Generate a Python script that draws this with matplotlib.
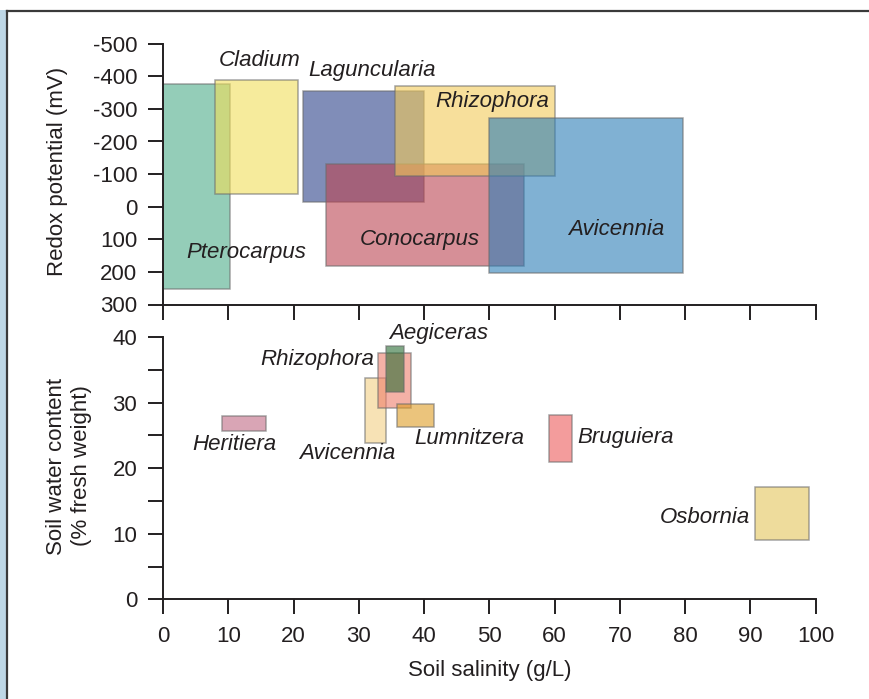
import matplotlib
matplotlib.use('Agg')
import matplotlib.pyplot as plt
from matplotlib.colors import to_rgb
from matplotlib.patches import Rectangle
from matplotlib.lines import Line2D
import numpy as np

# верхняя панель: окислительно-восстановительный потенциал
top_species = ['Pterocarpus', 'Cladium', 'Laguncularia', 'Conocarpus', 'Rhizophora', 'Avicennia']
top_sal_lo = [0, 8, 21.5, 25, 35.5, 50]
top_sal_hi = [10.2, 20.7, 40, 55.3, 60, 79.6]
top_redox_lo = [-375, -390, -355, -130, -370, -272]
top_redox_hi = [252, -38, -15, 182, -95, 203]
top_label_x = [12.8, 14.8, 32.0, 39.3, 50.5, 69.5]
top_label_y = [140, -447, -419, 100, -324, 69]
top_colors = ['#94CEB8', '#F6EC9C', '#808DB8', '#D68F97', '#F7DF9B', '#80B1D4']

# нижняя панель: влажность почвы
bot_species = ['Heritiera', 'Avicennia', 'Rhizophora', 'Aegiceras', 'Lumnitzera', 'Bruguiera', 'Osbornia']
bot_sal_lo = [9.1, 30.9, 33.0, 34.1, 35.9, 59.1, 90.7]
bot_sal_hi = [15.8, 34.1, 38.0, 37.0, 41.5, 62.7, 98.9]
bot_water_lo = [25.6, 23.9, 29.2, 31.6, 26.3, 21.0, 9.0]
bot_water_hi = [28.0, 33.7, 37.6, 38.7, 29.8, 28.1, 17.1]
bot_label_x = [11.0, 28.2, 23.7, 42.3, 47.0, 70.8, 83.0]
bot_label_y = [23.6, 22.2, 36.5, 40.6, 24.5, 24.6, 12.5]
bot_colors = ['#D9A5B6', '#F8E2B6', '#F5B1A6', '#7FA785', '#EBC47C', '#F39C9C', '#EFDD9C']

redox_ticks = [-500, -400, -300, -200, -100, 0, 100, 200, 300]
water_ticks = [0, 10, 20, 30, 40]
water_minor = [5, 15, 25, 35]
sal_ticks = [0, 10, 20, 30, 40, 50, 60, 70, 80, 90, 100]

ALPHA = 0.6
INK = '#231f20'
FS = 16
FS_LAB = 16

plt.rcParams['font.family'] = ['Liberation Sans', 'DejaVu Sans']
plt.rcParams['axes.unicode_minus'] = False


def base_rgba(hexcol, a=ALPHA):
    # цвет, который на белом фоне при прозрачности a дает наблюдаемый оттенок
    c = np.array(to_rgb(hexcol))
    b = (c - (1 - a)) / a
    b = np.clip(b, 0, 1)
    return (b[0], b[1], b[2], a)


EDGE = (0.42, 0.42, 0.42, 0.6)

fig = plt.figure(figsize=(8.69, 6.99), dpi=100)
W, H = 869.0, 699.0

# рамка
fig.patches.append(Rectangle((0, 0), 6.5 / W, 1 - 10 / H, transform=fig.transFigure,
                             facecolor='#BED7E6', edgecolor='none', zorder=0))
fig.lines.append(Line2D([7.3 / W, 7.3 / W], [0, 1 - 10.5 / H], transform=fig.transFigure,
                        color='#3a3a3a', lw=1.6))
fig.lines.append(Line2D([6.5 / W, 1], [1 - 10.8 / H, 1 - 10.8 / H], transform=fig.transFigure,
                        color='#3a3a3a', lw=1.6))

x0, x1 = 163 / W, 815.7 / W
ax = fig.add_axes([x0, 1 - 304.5 / H, x1 - x0, (304.5 - 43.7) / H])
ax2 = fig.add_axes([x0, 1 - 599.3 / H, x1 - x0, (599.3 - 337) / H])

for a in (ax, ax2):
    for s in ('top', 'right'):
        a.spines[s].set_visible(False)
    for s in ('left', 'bottom'):
        a.spines[s].set_color(INK)
        a.spines[s].set_linewidth(1.4)
    a.tick_params(which='both', direction='out', length=10.5, width=1.4, color=INK,
                  labelsize=FS, labelcolor=INK)
    a.tick_params(axis='y', pad=8)
    a.set_xlim(0, 100)
    a.set_xticks(sal_ticks)
    a.set_facecolor('none')

# верх
for i in range(len(top_species)):
    ax.bar(top_sal_lo[i], top_redox_hi[i] - top_redox_lo[i],
           width=top_sal_hi[i] - top_sal_lo[i], bottom=top_redox_lo[i], align='edge',
           facecolor=base_rgba(top_colors[i]), edgecolor=EDGE, linewidth=1.1, zorder=2)
    ax.text(top_label_x[i], top_label_y[i], top_species[i], style='italic', fontsize=FS_LAB,
            color=INK, ha='center', va='center', zorder=5)

ax.set_ylim(300, -500)
ax.set_yticks(redox_ticks)
ax.set_yticklabels([str(v) for v in redox_ticks])
ax.tick_params(axis='x', labelbottom=False)
ax.set_ylabel('Redox potential (mV)', fontsize=FS, color=INK)
ax.yaxis.set_label_coords(-0.162, 0.512)
ax.yaxis.label.set_va('center')

# низ
for i in range(len(bot_species)):
    ax2.bar(bot_sal_lo[i], bot_water_hi[i] - bot_water_lo[i],
            width=bot_sal_hi[i] - bot_sal_lo[i], bottom=bot_water_lo[i], align='edge',
            facecolor=base_rgba(bot_colors[i]), edgecolor=EDGE, linewidth=1.1, zorder=2)
    ax2.text(bot_label_x[i], bot_label_y[i], bot_species[i], style='italic', fontsize=FS_LAB,
             color=INK, ha='center', va='center', zorder=5)

ax2.set_ylim(0, 40)
ax2.set_yticks(water_ticks)
ax2.set_yticks(water_minor, minor=True)
ax2.tick_params(axis='x', pad=9)
ax2.set_ylabel('Soil water content\n(% fresh weight)', fontsize=FS, color=INK, linespacing=1.3)
ax2.yaxis.set_label_coords(-0.144, 0.508)
ax2.yaxis.label.set_va('center')
ax2.set_xlabel('Soil salinity (g/L)', fontsize=FS, color=INK)
ax2.xaxis.set_label_coords(0.5, -0.27)
ax2.xaxis.label.set_va('center')

for a in (ax, ax2):
    a.spines['left'].set_zorder(6)
    a.spines['bottom'].set_zorder(6)

fig.savefig('out.png', dpi=100)
